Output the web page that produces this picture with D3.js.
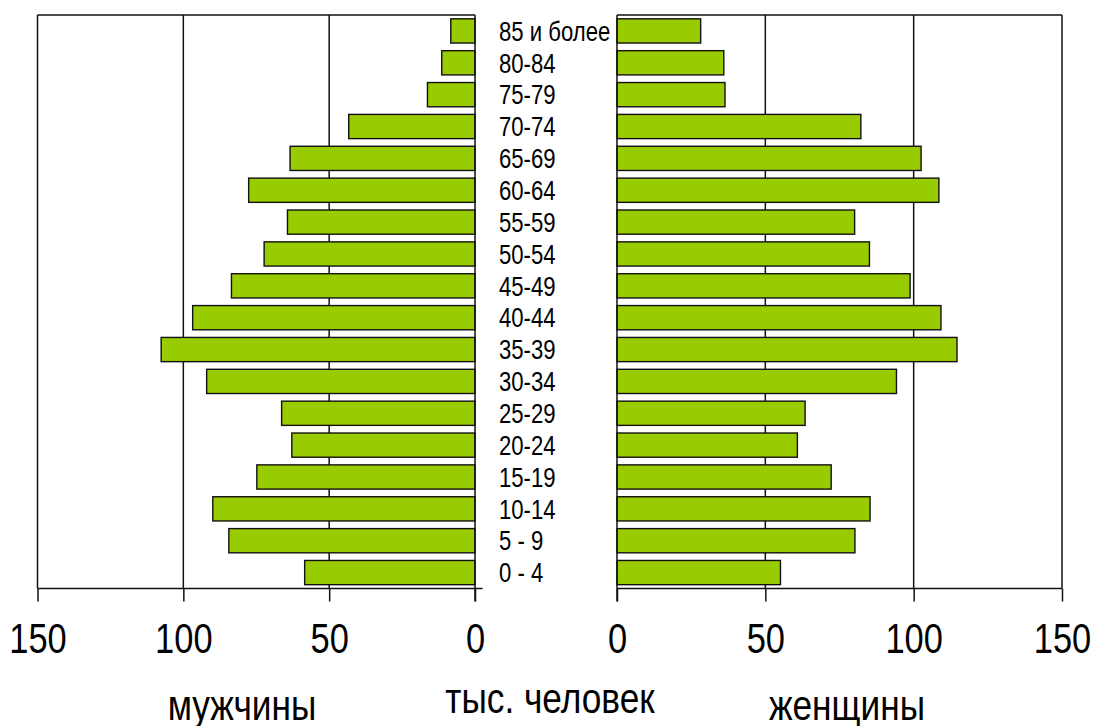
<!DOCTYPE html>
<html>

<head>
    <script src="https://cdnjs.cloudflare.com/ajax/libs/d3/7.8.5/d3.min.js"></script>
    <style>
        body {
            margin: 0;
            background: #fff;
        }

        text {
            font-family: 'Liberation Sans', Arial, sans-serif;
            fill: #000;
        }
    </style>
</head>

<body>
    <div id="root"></div>
    <script>
        // age groups, bottom to top
        const ages = ["0 - 4", "5 - 9", "10-14", "15-19", "20-24", "25-29", "30-34", "35-39", "40-44",
            "45-49", "50-54", "55-59", "60-64", "65-69", "70-74", "75-79", "80-84", "85 и более"]
        // thousands of people
        const men = [58.4, 84.4, 89.9, 74.8, 62.8, 66.3, 92.0, 107.6, 96.8, 83.5, 72.3, 64.3, 77.6, 63.4, 43.3, 16.3, 11.4, 8.3]
        const women = [55.1, 80.2, 85.3, 72.2, 60.8, 63.4, 94.2, 114.6, 109.2, 98.8, 85.1, 80.1, 108.5, 102.5, 82.2, 36.4, 36.0, 28.2]
        const xTicks = [0, 50, 100, 150]
        const titles = ["мужчины", "тыс. человек", "женщины"]

        const w = 1095
        const h = 726
        const plotTop = 15
        const plotBottom = 588.5
        const squeeze = 0.82
        const lineColor = "#111"

        const svg = d3.select("#root")
            .append("svg")
            .attr("width", w)
            .attr("height", h)

        const y = d3.scaleBand()
            .domain(ages.slice().reverse())
            .range([plotTop, plotBottom])
            .paddingInner(0.24)
            .paddingOuter(0.12)

        const xL = d3.scaleLinear().domain([0, 150]).range([475, 37.5])
        const xR = d3.scaleLinear().domain([0, 150]).range([617, 1062])

        function panel(x, values, side) {
            const g = svg.append("g")

            // gridlines + outer border line at 150
            g.selectAll("line.grid")
                .data([50, 100, 150])
                .enter()
                .append("line")
                .attr("x1", d => x(d))
                .attr("x2", d => x(d))
                .attr("y1", plotTop)
                .attr("y2", plotBottom)
                .attr("stroke", lineColor)
                .attr("stroke-width", 1.5)

            // top border
            g.append("line")
                .attr("x1", x(0)).attr("x2", x(150))
                .attr("y1", plotTop).attr("y2", plotTop)
                .attr("stroke", lineColor)
                .attr("stroke-width", 1.5)

            // bars
            g.selectAll("rect")
                .data(values)
                .enter()
                .append("rect")
                .attr("x", d => Math.min(x(0), x(d)))
                .attr("y", (d, i) => y(ages[i]))
                .attr("width", d => Math.abs(x(d) - x(0)))
                .attr("height", y.bandwidth())
                .attr("fill", "#99cc00")
                .attr("stroke", lineColor)
                .attr("stroke-width", 1.4)

            // value axis
            const axis = g.append("g")
                .attr("transform", "translate(0," + plotBottom + ")")
                .call(d3.axisBottom(x).tickValues(xTicks).tickSize(13).tickSizeOuter(0).tickPadding(22).tickFormat(d3.format("d")))
            axis.select(".domain").remove()
            axis.selectAll(".tick line").attr("stroke", lineColor).attr("stroke-width", 1.5)
            axis.selectAll(".tick text")
                .attr("font-size", 42)
                .attr("transform", "scale(" + squeeze + ",1)")
                .attr("fill", "#000")

            // baseline, a bit longer on the inner side of the left panel
            const ext = side == "left" ? 7.5 : 0
            g.append("line")
                .attr("x1", Math.min(x(0), x(150)))
                .attr("x2", Math.max(x(0), x(150)) + ext)
                .attr("y1", plotBottom).attr("y2", plotBottom)
                .attr("stroke", lineColor)
                .attr("stroke-width", 1.5)

            // zero axis line
            g.append("line")
                .attr("x1", x(0)).attr("x2", x(0))
                .attr("y1", plotTop).attr("y2", plotBottom + 13)
                .attr("stroke", lineColor)
                .attr("stroke-width", 1.5)
        }

        panel(xL, men, "left")
        panel(xR, women, "right")

        // age labels in the middle
        svg.append("g")
            .selectAll("text")
            .data(ages)
            .enter()
            .append("text")
            .attr("transform", d => "translate(499," + (y(d) + y.bandwidth() / 2) + ") scale(" + squeeze + ",1)")
            .attr("dy", "0.36em")
            .attr("font-size", 27)
            .text(d => d)

        // titles under the axes
        const titleX = [242, 550, 847]
        const titleY = [720, 713, 720]
        svg.append("g")
            .selectAll("text")
            .data(titles)
            .enter()
            .append("text")
            .attr("transform", (d, i) => "translate(" + titleX[i] + "," + titleY[i] + ") scale(" + squeeze + ",1)")
            .attr("text-anchor", "middle")
            .attr("font-size", 43)
            .text(d => d)
    </script>
</body>

</html>
